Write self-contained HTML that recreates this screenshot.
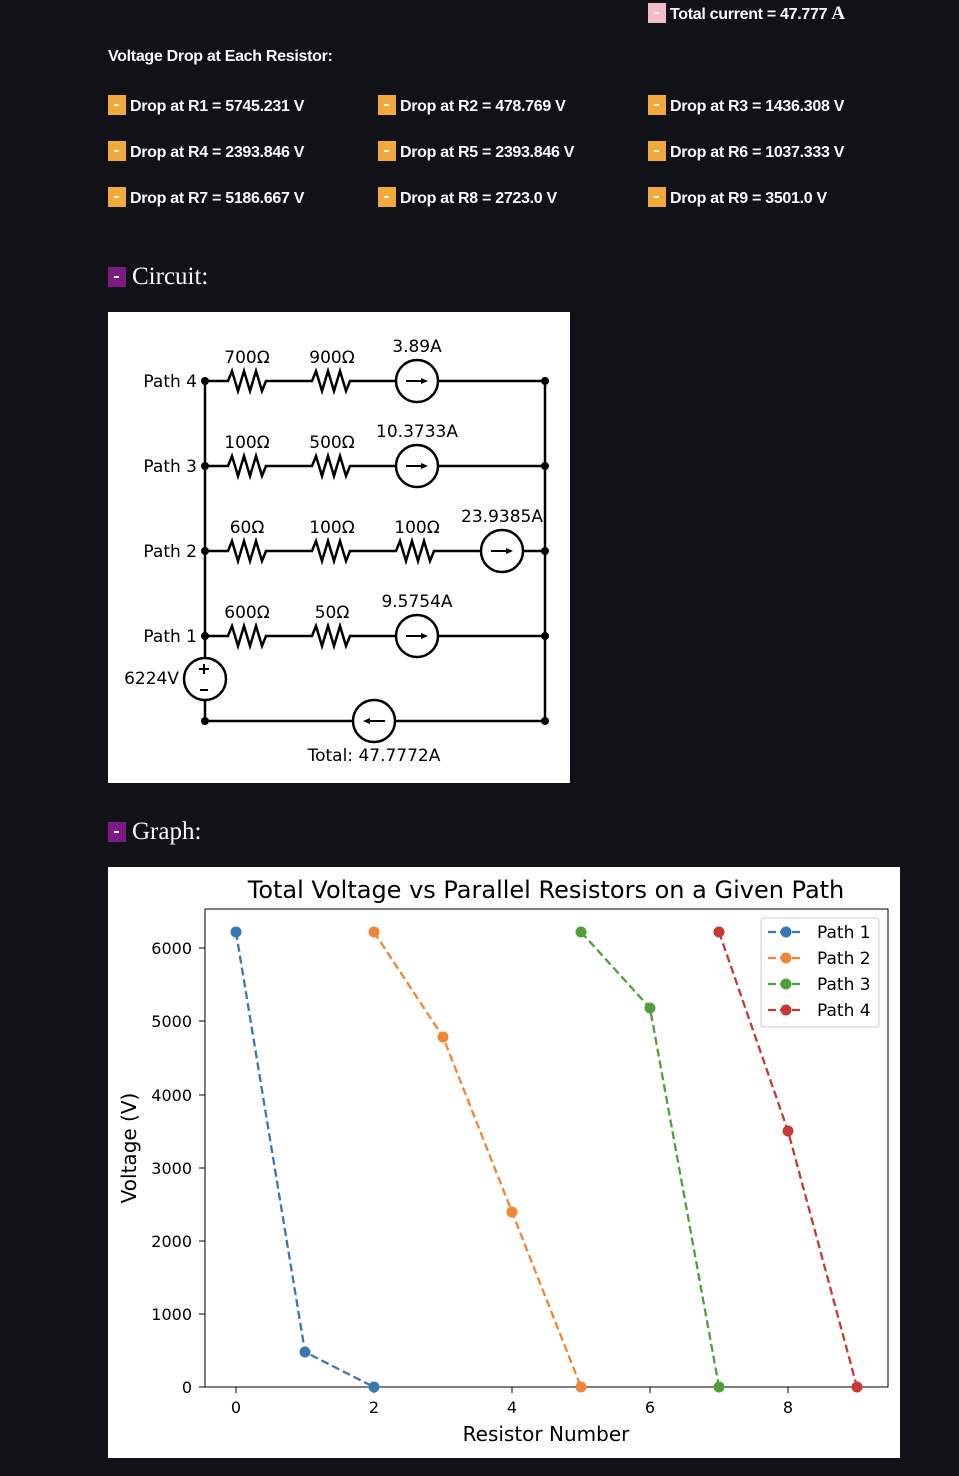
<!DOCTYPE html>
<html><head><meta charset="utf-8"><style>
body{margin:0;background:#111218;width:959px;height:1476px;position:relative;overflow:hidden;font-family:"Liberation Sans",sans-serif;color:#fafafa}
.t{position:absolute;font-size:16px;font-weight:bold;letter-spacing:-0.3px;white-space:nowrap}
.b{display:inline-block;width:18px;height:20px;background:#f0a93a;vertical-align:-4px;margin-right:4px;position:relative}
.b:after{content:"";position:absolute;left:6px;top:9px;width:5px;height:2px;background:#fff}
.h{position:absolute;font-family:"Liberation Serif",serif;font-size:25px}
.p{display:inline-block;width:18px;height:20px;background:#7a1a82;vertical-align:-3px;margin-right:6px;position:relative}
.p:after{content:"";position:absolute;left:6px;top:9px;width:5px;height:2px;background:#fff}
</style></head><body>
<div class="t" style="left:648px;top:3px"><span class="b" style="background:#f4bcc8"></span>Total current = 47.777 <span style="font-family:'Liberation Serif';font-size:19px">A</span></div>
<div class="t" style="left:108px;top:48px">Voltage Drop at Each Resistor:</div>
<div class="t" style="left:108px;top:95px"><span class="b"></span>Drop at R1 = 5745.231 V</div>
<div class="t" style="left:378px;top:95px"><span class="b"></span>Drop at R2 = 478.769 V</div>
<div class="t" style="left:648px;top:95px"><span class="b"></span>Drop at R3 = 1436.308 V</div>
<div class="t" style="left:108px;top:141px"><span class="b"></span>Drop at R4 = 2393.846 V</div>
<div class="t" style="left:378px;top:141px"><span class="b"></span>Drop at R5 = 2393.846 V</div>
<div class="t" style="left:648px;top:141px"><span class="b"></span>Drop at R6 = 1037.333 V</div>
<div class="t" style="left:108px;top:187px"><span class="b"></span>Drop at R7 = 5186.667 V</div>
<div class="t" style="left:378px;top:187px"><span class="b"></span>Drop at R8 = 2723.0 V</div>
<div class="t" style="left:648px;top:187px"><span class="b"></span>Drop at R9 = 3501.0 V</div>
<div class="h" style="left:108px;top:263px"><span class="p"></span>Circuit:</div>
<div class="h" style="left:108px;top:818px"><span class="p"></span>Graph:</div>

<svg style="position:absolute;left:0;top:0" width="959" height="1476" font-family="DejaVu Sans,sans-serif">
<rect x="108" y="312" width="462" height="471" fill="#fff"/>
<g stroke="#000" stroke-width="2.5" fill="none">
<path d="M205,381V658M205,700V721H545V381"/>
<circle cx="205" cy="679" r="21"/>
<circle cx="374" cy="721" r="21" fill="#fff"/>
<path d="M205,381H228l4,-10 l6,20 l6,-20 l6,20 l6,-20 l6,20 l4,-10H312l4,-10 l6,20 l6,-20 l6,20 l6,-20 l6,20 l4,-10H396M438,381H545"/>
<path d="M205,466H228l4,-10 l6,20 l6,-20 l6,20 l6,-20 l6,20 l4,-10H312l4,-10 l6,20 l6,-20 l6,20 l6,-20 l6,20 l4,-10H396M438,466H545"/>
<path d="M205,551H228l4,-10 l6,20 l6,-20 l6,20 l6,-20 l6,20 l4,-10H312l4,-10 l6,20 l6,-20 l6,20 l6,-20 l6,20 l4,-10H396l4,-10 l6,20 l6,-20 l6,20 l6,-20 l6,20 l4,-10H481M523,551H545"/>
<path d="M205,636H228l4,-10 l6,20 l6,-20 l6,20 l6,-20 l6,20 l4,-10H312l4,-10 l6,20 l6,-20 l6,20 l6,-20 l6,20 l4,-10H396M438,636H545"/>
<circle cx="417" cy="381" r="21"/><circle cx="417" cy="466" r="21"/><circle cx="502" cy="551" r="21"/><circle cx="417" cy="636" r="21"/>
<path d="M406,381h16M406,466h16M491,551h16M406,636h16M385,721h-16" stroke-width="2"/>
<path d="M199,669h10M204,664v10M200,690h8" stroke-width="2"/>
</g>
<g fill="#000">
<path d="M428,381l-7,-3v6zM428,466l-7,-3v6zM513,551l-7,-3v6zM428,636l-7,-3v6zM363,721l7,-3v6z"/>
<circle cx="205" cy="381" r="4"/><circle cx="205" cy="466" r="4"/><circle cx="205" cy="551" r="4"/><circle cx="205" cy="636" r="4"/><circle cx="205" cy="721" r="4"/>
<circle cx="545" cy="381" r="4"/><circle cx="545" cy="466" r="4"/><circle cx="545" cy="551" r="4"/><circle cx="545" cy="636" r="4"/><circle cx="545" cy="721" r="4"/>
</g>
<g font-size="17" fill="#000">
<text x="197" y="387" text-anchor="end">Path 4</text><text x="197" y="472" text-anchor="end">Path 3</text><text x="197" y="557" text-anchor="end">Path 2</text><text x="197" y="642" text-anchor="end">Path 1</text>
<text x="179" y="684" text-anchor="end">6224V</text>
<g text-anchor="middle">
<text x="247" y="363">700Ω</text><text x="332" y="363">900Ω</text><text x="417" y="352">3.89A</text>
<text x="247" y="448">100Ω</text><text x="332" y="448">500Ω</text><text x="417" y="437">10.3733A</text>
<text x="247" y="533">60Ω</text><text x="332" y="533">100Ω</text><text x="417" y="533">100Ω</text><text x="502" y="522">23.9385A</text>
<text x="247" y="618">600Ω</text><text x="332" y="618">50Ω</text><text x="417" y="607">9.5754A</text>
<text x="374" y="761">Total: 47.7772A</text>
</g></g>

<rect x="108" y="867" width="792" height="591" fill="#fff"/>
<text x="546" y="898" font-size="24" text-anchor="middle" fill="#000">Total Voltage vs Parallel Resistors on a Given Path</text>
<rect x="205" y="909" width="683" height="478" fill="none" stroke="#000" stroke-width="1"/>
<g font-size="16" fill="#000" text-anchor="end">
<text x="192" y="1393">0</text><text x="192" y="1320">1000</text><text x="192" y="1247">2000</text><text x="192" y="1174">3000</text><text x="192" y="1101">4000</text><text x="192" y="1027">5000</text><text x="192" y="954">6000</text>
</g>
<g stroke="#000"><path d="M199,1387h6M199,1314h6M199,1241h6M199,1168h6M199,1095h6M199,1021h6M199,948h6M236,1387v6M374,1387v6M512,1387v6M650,1387v6M788,1387v6"/></g>
<g font-size="16" fill="#000" text-anchor="middle">
<text x="236" y="1413">0</text><text x="374" y="1413">2</text><text x="512" y="1413">4</text><text x="650" y="1413">6</text><text x="788" y="1413">8</text>
<text x="546" y="1441" font-size="20">Resistor Number</text>
<text transform="translate(136,1148) rotate(-90)" font-size="20">Voltage (V)</text>
</g>
<g fill="none" stroke-width="2.3" stroke-dasharray="8,4">
<polyline stroke="#3a76af" points="236,932 305,1352 374,1387"/>
<polyline stroke="#ef8636" points="374,932 443,1037 512,1212 581,1387"/>
<polyline stroke="#519e3e" points="581,932 650,1008 719,1387"/>
<polyline stroke="#c53a32" points="719,932 788,1131 857,1387"/>
</g>
<g>
<g fill="#3a76af"><circle cx="236" cy="932" r="5.5"/><circle cx="305" cy="1352" r="5.5"/><circle cx="374" cy="1387" r="5.5"/></g>
<g fill="#ef8636"><circle cx="374" cy="932" r="5.5"/><circle cx="443" cy="1037" r="5.5"/><circle cx="512" cy="1212" r="5.5"/><circle cx="581" cy="1387" r="5.5"/></g>
<g fill="#519e3e"><circle cx="581" cy="932" r="5.5"/><circle cx="650" cy="1008" r="5.5"/><circle cx="719" cy="1387" r="5.5"/></g>
<g fill="#c53a32"><circle cx="719" cy="932" r="5.5"/><circle cx="788" cy="1131" r="5.5"/><circle cx="857" cy="1387" r="5.5"/></g>
</g>
<rect x="761" y="918" width="118" height="109" rx="3" fill="#fff" stroke="#ccc"/>
<g stroke-width="2.3" stroke-dasharray="8,4">
<path d="M768,932h36" stroke="#3a76af"/><path d="M768,958h36" stroke="#ef8636"/><path d="M768,984h36" stroke="#519e3e"/><path d="M768,1010h36" stroke="#c53a32"/>
</g>
<circle cx="786" cy="932" r="5.5" fill="#3a76af"/><circle cx="786" cy="958" r="5.5" fill="#ef8636"/><circle cx="786" cy="984" r="5.5" fill="#519e3e"/><circle cx="786" cy="1010" r="5.5" fill="#c53a32"/>
<g font-size="17" fill="#000"><text x="817" y="938">Path 1</text><text x="817" y="964">Path 2</text><text x="817" y="990">Path 3</text><text x="817" y="1016">Path 4</text></g>
</svg>
</body></html>
